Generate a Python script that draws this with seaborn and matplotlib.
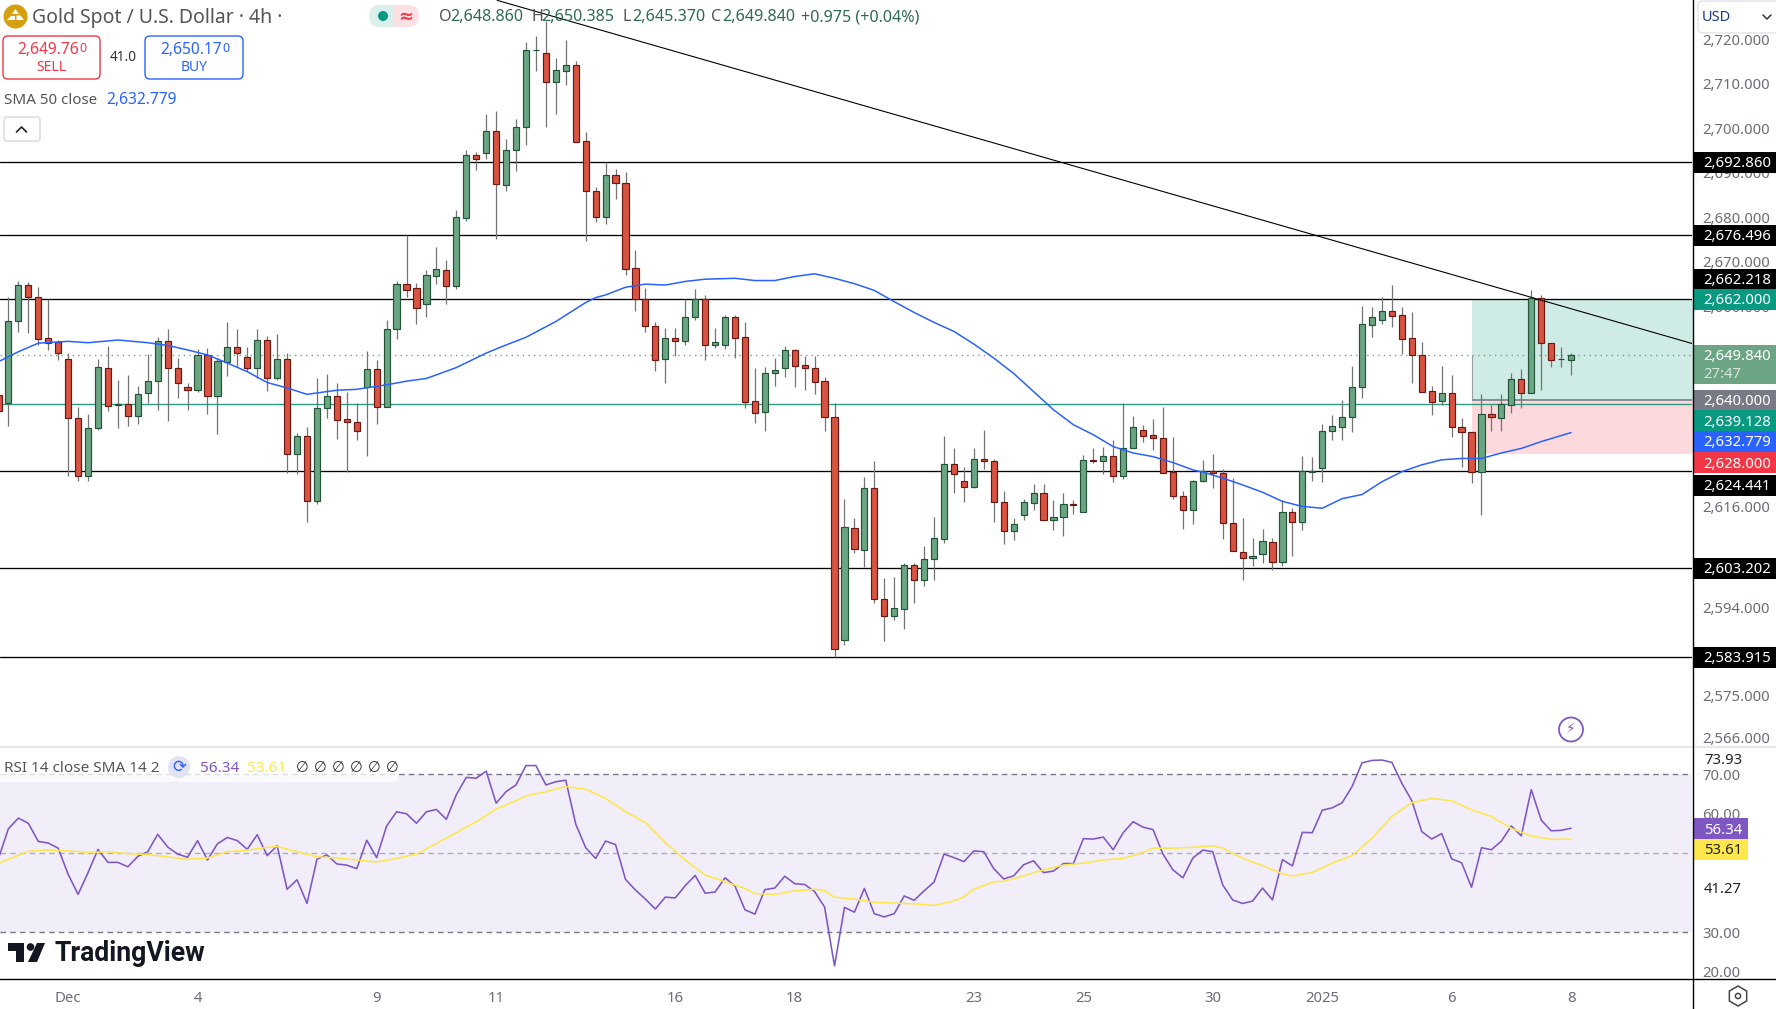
import numpy as np
import pandas as pd
import matplotlib
matplotlib.use("Agg")
import matplotlib.pyplot as plt
from matplotlib.patches import Circle, FancyBboxPatch, Polygon, Rectangle, RegularPolygon
from matplotlib.ticker import NullLocator
from matplotlib.transforms import ScaledTranslation
import seaborn as sns

# 4h candles, first one is cut off by the left edge
open_px = [
    2641.1, 2639.3, 2657.5, 2665.4, 2662.8, 2653.6, 2652.7, 2649.0, 2636.0, 2623.2, 2633.8, 2647.0, 2638.9, 2639.0, 2636.5, 2641.4,
    2644.1, 2652.9, 2647.0, 2642.8, 2642.1, 2649.8, 2640.9, 2648.4, 2651.6, 2649.4, 2646.9, 2653.1, 2644.9, 2649.0, 2628.0, 2632.0,
    2617.7, 2638.1, 2640.8, 2635.7, 2635.0, 2642.9, 2646.7, 2638.3, 2655.6, 2665.6, 2664.7, 2661.1, 2667.5, 2668.7, 2665.1, 2680.4,
    2694.4, 2695.0, 2700.0, 2687.7, 2695.7, 2700.9, 2718.1, 2717.6, 2711.0, 2713.5, 2714.7, 2697.6, 2686.3, 2680.6, 2689.9, 2688.3,
    2669.1, 2662.2, 2656.3, 2648.9, 2653.6, 2652.9, 2658.2, 2662.2, 2652.0, 2652.2, 2658.3, 2653.8, 2639.7, 2637.2, 2646.0, 2646.9,
    2650.9, 2647.6, 2647.0, 2644.1, 2636.2, 2587.6, 2611.9, 2607.2, 2620.6, 2596.5, 2592.7, 2594.2, 2603.9, 2600.5, 2605.1, 2609.6,
    2625.9, 2622.1, 2620.9, 2627.0, 2626.5, 2617.5, 2611.2, 2614.8, 2617.4, 2619.5, 2613.6, 2614.2, 2617.2, 2615.3, 2626.7, 2626.5,
    2627.6, 2623.2, 2629.3, 2633.3, 2632.2, 2631.5, 2624.1, 2618.8, 2615.9, 2622.1, 2624.4, 2623.9, 2612.9, 2606.7, 2605.3, 2606.2,
    2608.9, 2604.5, 2615.4, 2613.1, 2624.2, 2625.0, 2633.1, 2633.9, 2636.1, 2642.9, 2656.6, 2657.7, 2659.6, 2658.7, 2653.6, 2649.8,
    2641.9, 2639.8, 2641.4, 2633.9, 2632.9, 2624.2, 2636.8, 2635.9, 2638.9, 2644.5, 2641.4, 2662.5, 2652.6, 2648.9, 2648.86,
]
high_px = [
    2643.7, 2662.8, 2666.3, 2666.1, 2664.9, 2662.4, 2653.2, 2650.3, 2638.3, 2636.9, 2649.0, 2651.9, 2644.4, 2645.5, 2643.0, 2650.1,
    2653.8, 2655.7, 2649.2, 2643.7, 2651.2, 2651.5, 2649.2, 2657.2, 2655.7, 2651.7, 2655.7, 2654.1, 2654.6, 2650.3, 2632.6, 2634.0,
    2644.9, 2645.7, 2643.7, 2641.7, 2639.3, 2650.8, 2648.8, 2657.7, 2666.3, 2676.5, 2665.8, 2668.8, 2673.9, 2671.0, 2682.1, 2695.6,
    2695.1, 2703.7, 2704.4, 2698.1, 2702.6, 2720.0, 2721.4, 2724.7, 2716.3, 2720.5, 2715.6, 2699.6, 2687.2, 2692.8, 2691.3, 2690.6,
    2673.2, 2664.7, 2657.2, 2655.9, 2655.9, 2662.2, 2664.5, 2663.2, 2655.9, 2658.8, 2658.8, 2657.2, 2647.0, 2647.2, 2649.2, 2651.9,
    2651.2, 2649.7, 2649.7, 2645.0, 2639.3, 2618.3, 2614.1, 2623.1, 2626.6, 2601.1, 2601.3, 2604.2, 2604.2, 2608.0, 2614.3, 2632.0,
    2629.4, 2625.3, 2629.4, 2633.4, 2627.0, 2620.0, 2614.0, 2618.3, 2621.6, 2621.6, 2618.1, 2619.6, 2618.1, 2627.9, 2629.4, 2629.6,
    2631.2, 2639.3, 2636.4, 2634.4, 2635.8, 2638.5, 2631.8, 2620.0, 2622.4, 2626.8, 2628.1, 2624.8, 2622.9, 2614.0, 2609.8, 2611.7,
    2609.8, 2617.9, 2616.3, 2627.7, 2627.5, 2634.7, 2636.6, 2640.0, 2647.4, 2660.8, 2660.5, 2662.7, 2665.4, 2660.5, 2659.4, 2652.8,
    2643.0, 2647.4, 2645.5, 2636.0, 2632.9, 2641.3, 2638.9, 2641.3, 2645.9, 2646.8, 2664.3, 2663.2, 2652.6, 2651.7, 2650.385,
]
low_px = [
    2633.4, 2634.3, 2655.0, 2654.7, 2652.1, 2650.9, 2648.8, 2623.2, 2622.1, 2622.1, 2633.4, 2637.5, 2633.7, 2634.3, 2634.7, 2639.3,
    2637.8, 2635.4, 2640.4, 2637.8, 2641.8, 2636.9, 2632.5, 2645.3, 2647.3, 2646.4, 2644.7, 2641.9, 2644.4, 2624.0, 2623.8, 2613.3,
    2617.1, 2636.0, 2631.4, 2624.2, 2631.2, 2627.7, 2634.7, 2638.3, 2653.4, 2662.8, 2656.8, 2658.2, 2665.7, 2661.2, 2664.6, 2679.7,
    2691.1, 2693.6, 2675.6, 2686.5, 2690.9, 2696.7, 2713.5, 2700.9, 2703.7, 2710.3, 2697.5, 2675.3, 2679.5, 2679.0, 2684.6, 2667.7,
    2659.7, 2654.9, 2646.4, 2643.7, 2649.7, 2652.0, 2657.7, 2648.8, 2651.5, 2651.3, 2649.3, 2638.2, 2634.9, 2633.1, 2643.0, 2645.0,
    2642.9, 2642.2, 2641.3, 2633.1, 2583.9, 2586.6, 2606.5, 2603.5, 2595.5, 2587.3, 2592.0, 2589.9, 2595.7, 2599.2, 2600.5, 2608.7,
    2619.6, 2617.6, 2620.6, 2624.8, 2613.3, 2608.5, 2609.3, 2613.7, 2615.9, 2613.6, 2611.5, 2610.2, 2615.0, 2615.3, 2626.0, 2623.8,
    2622.0, 2622.6, 2629.3, 2630.7, 2629.0, 2624.0, 2618.3, 2611.7, 2612.8, 2621.9, 2620.6, 2609.5, 2606.9, 2600.6, 2603.7, 2604.2,
    2602.8, 2603.7, 2605.7, 2611.5, 2622.2, 2621.9, 2631.2, 2631.2, 2632.9, 2640.4, 2653.9, 2656.8, 2656.1, 2650.1, 2643.7, 2641.7,
    2636.6, 2638.9, 2631.8, 2625.3, 2621.8, 2614.8, 2633.1, 2633.1, 2637.1, 2638.2, 2641.4, 2642.2, 2647.2, 2647.2, 2645.37,
]
close_px = [
    2637.6, 2657.5, 2665.4, 2662.8, 2653.5, 2652.6, 2650.3, 2636.0, 2623.2, 2633.8, 2647.2, 2638.7, 2639.1, 2636.5, 2641.2, 2644.1,
    2652.9, 2647.1, 2643.8, 2642.2, 2649.8, 2640.9, 2648.5, 2651.6, 2650.3, 2647.1, 2653.1, 2644.9, 2649.0, 2628.0, 2632.0, 2617.7,
    2638.2, 2640.8, 2635.6, 2635.0, 2633.2, 2646.7, 2638.3, 2655.6, 2665.6, 2664.4, 2660.2, 2667.6, 2668.9, 2665.1, 2680.5, 2694.4,
    2693.6, 2700.0, 2687.9, 2695.7, 2700.9, 2718.1, 2718.2, 2711.0, 2713.6, 2714.7, 2697.5, 2686.3, 2680.6, 2689.9, 2688.3, 2668.9,
    2662.2, 2656.2, 2648.7, 2653.6, 2652.9, 2658.3, 2662.2, 2652.0, 2652.7, 2658.3, 2653.7, 2639.6, 2637.0, 2646.0, 2646.5, 2650.9,
    2647.5, 2646.9, 2644.0, 2636.1, 2585.6, 2612.1, 2607.3, 2620.6, 2596.4, 2592.7, 2594.5, 2603.9, 2600.5, 2605.2, 2609.7, 2625.9,
    2623.6, 2620.9, 2627.0, 2626.5, 2617.5, 2611.2, 2612.8, 2617.5, 2619.5, 2613.6, 2614.3, 2617.1, 2617.0, 2626.7, 2626.5, 2627.6,
    2623.2, 2629.3, 2633.9, 2632.1, 2631.5, 2624.0, 2618.8, 2615.9, 2622.1, 2624.4, 2623.9, 2612.9, 2606.9, 2605.3, 2605.9, 2609.1,
    2604.5, 2615.4, 2613.3, 2624.3, 2624.4, 2633.1, 2634.2, 2636.2, 2642.9, 2656.7, 2658.3, 2659.6, 2658.6, 2653.5, 2649.8, 2641.8,
    2639.6, 2641.4, 2633.9, 2632.8, 2624.2, 2636.8, 2636.1, 2639.1, 2644.5, 2641.4, 2662.5, 2652.6, 2648.7, 2649.0, 2649.84,
]
bar_idx = np.arange(-1, len(open_px) - 1)

# SMA 50 read at every other bar or so
sma_idx = [
    -1, 1, 3, 6, 8, 11, 14, 16, 18, 20, 22, 24, 26, 28, 30, 33, 35, 38, 40, 42, 45, 48, 50, 52, 55, 58, 59,
    60, 62, 64, 66, 68, 70, 73, 75, 77, 79, 81, 83, 85, 87, 89, 91, 93, 95, 97, 99, 101, 103, 105, 107, 109,
    111, 113, 115, 117, 119, 120, 122, 124, 126, 128, 130, 132, 134, 136, 138, 140, 142, 144, 146, 148, 150, 152, 154, 157,
]
sma_val = [
    2648.4, 2650.6, 2652.5, 2652.9, 2652.6, 2653.2, 2652.6, 2652.0, 2651.0, 2649.9, 2648.1, 2646.2, 2643.8, 2642.6, 2641.2,
    2642.1, 2642.3, 2643.3, 2644.1, 2644.7, 2647.1, 2650.3, 2652.1, 2653.8, 2657.3, 2661.5, 2662.6,
    2663.2, 2664.9, 2665.6, 2665.4, 2666.2, 2666.7, 2666.9, 2666.4, 2666.4, 2667.3, 2667.9, 2666.9, 2665.7, 2664.2, 2661.7,
    2659.3, 2657.1, 2655.1, 2652.3, 2649.2, 2645.8, 2641.8, 2637.8, 2634.5, 2632.3,
    2629.7, 2628.3, 2627.5, 2626.2, 2624.6, 2624.1, 2622.8, 2621.3, 2619.7, 2617.7, 2616.6, 2616.2, 2618.3, 2619.2, 2622.0,
    2624.2, 2625.7, 2626.8, 2627.1, 2627.1, 2628.3, 2629.3, 2630.8, 2632.78,
]

# RSI 14, one value per bar
rsi_val = [
    48.7, 56.2, 58.9, 57.6, 53.0, 52.6, 51.3, 44.7, 39.6, 45.1, 51.0, 47.7, 47.7, 46.6, 49.2, 50.4, 54.8, 51.6, 49.8, 49.0,
    53.2, 48.3, 52.4, 54.0, 53.2, 51.0, 54.7, 49.4, 51.9, 40.9, 43.3, 37.3, 48.5, 49.6, 47.3, 47.0, 46.1, 53.3, 48.9, 56.9,
    60.5, 60.0, 57.6, 60.5, 61.1, 58.6, 64.8, 69.2, 69.0, 70.8, 62.7, 65.6, 67.3, 72.2, 72.2, 67.3, 68.1, 68.5, 57.4, 51.4,
    48.7, 53.1, 52.2, 43.4, 40.7, 38.4, 35.9, 38.9, 38.7, 41.8, 44.4, 39.9, 40.2, 43.8, 41.7, 35.7, 34.6, 40.8, 41.2, 44.2,
    42.3, 42.1, 40.3, 36.4, 21.5, 36.3, 35.1, 41.1, 34.7, 33.9, 34.7, 39.2, 38.1, 40.5, 42.7, 49.8, 48.9, 47.9, 50.6, 50.4,
    46.1, 43.5, 44.3, 47.1, 48.1, 45.1, 45.5, 47.4, 47.4, 53.7, 53.6, 54.1, 50.9, 55.2, 58.0, 56.6, 56.0, 49.8, 45.8, 43.8,
    48.8, 50.8, 50.4, 42.0, 38.2, 37.3, 37.9, 41.2, 38.2, 48.4, 46.8, 55.3, 55.2, 60.9, 61.5, 62.8, 66.9, 72.9, 73.5, 73.6,
    73.0, 67.7, 63.3, 55.5, 53.6, 55.0, 48.6, 47.6, 41.4, 51.4, 50.9, 53.1, 56.9, 54.4, 66.1, 58.4, 55.7, 55.8, 56.34,
]
rsi_sma_idx = [
    -1, 2, 4, 6, 8, 10, 12, 14, 16, 18, 20, 22, 24, 26, 27, 29, 31, 33, 35, 37, 39, 41, 43, 45, 47, 49, 50, 52, 54, 56, 58,
    60, 62, 64, 66, 68, 70, 72, 74, 75, 77, 79, 81, 82, 83, 85, 87, 89, 91, 93, 95, 96, 97, 99, 100, 102, 104, 106, 108, 110,
    112, 114, 115, 117, 119, 121, 122, 124, 126, 128, 129, 131, 133, 135, 137, 139, 141, 143, 145, 147, 149, 151, 153, 155, 157,
]
rsi_sma_val = [
    47.5, 50.5, 50.8, 50.6, 50.2, 50.4, 49.9, 49.7, 49.1, 48.5, 48.8, 50.4, 50.8, 51.5, 51.7, 50.4, 49.1, 48.8, 48.3, 47.8,
    48.7, 49.8, 52.5, 55.2, 58.0, 61.2, 62.2, 64.5, 65.6, 66.9, 66.2,
    63.9, 60.5, 57.8, 52.7, 48.3, 44.5, 42.8, 41.1, 39.8, 39.6, 40.5, 40.9, 40.5, 38.9, 38.4, 37.6, 37.4, 37.2, 36.8, 37.9,
    39.0, 40.9, 42.8, 42.9, 44.3, 45.8, 47.0, 47.5, 48.3,
    48.7, 50.2, 51.3, 51.3, 51.5, 51.9, 51.3, 48.7, 46.9, 44.8, 44.2, 45.2, 47.5, 49.4, 53.8, 59.3, 62.8, 63.9, 63.3, 61.0,
    59.3, 56.3, 54.4, 53.5, 53.61,
]

support_levels = [2692.86, 2676.496, 2662.218, 2624.441, 2603.202, 2583.915]
trend_idx = [49.1, 169.2]
trend_px = [2729.5, 2652.4]
last_price = 2649.84
entry_line = 2639.128
target_px, entry_px, stop_px = 2662.0, 2640.0, 2628.0
box_start = 147

price_ticks = [2720, 2710, 2700, 2690, 2680, 2670, 2660, 2616, 2594, 2575, 2566]
date_idx = [6, 19, 37, 49, 67, 79, 97, 108, 121, 132, 145, 157]
date_labels = ["Dec", "4", "9", "11", "16", "18", "23", "25", "30", "2025", "6", "8"]
rsi_ticks = [70, 60, 30, 20]

# right hand scale flags: text, background, y of the flag (TV pushes them apart)
flag_text = ["2,692.860", "2,676.496", "2,662.218", "2,662.000", "2,640.000", "2,639.128", "2,632.779", "2,628.000", "2,624.441", "2,603.202", "2,583.915"]
flag_color = ["#000000", "#000000", "#000000", "#089981", "#787b86", "#089981", "#2962ff", "#f23645", "#000000", "#000000", "#000000"]
flag_y = [162, 235, 279, 299.5, 400, 420.5, 441.5, 462.5, 485, 568, 657]

WIDTH, HEIGHT = 1776, 1009
GREY = "#6a6d78"

sns.set_theme(style="white")
plt.rcParams["font.family"] = ["Noto Sans", "DejaVu Sans"]

fig = plt.figure(figsize=(WIDTH / 100, HEIGHT / 100), dpi=100)
ax = fig.add_axes([0, 1 - 746 / HEIGHT, 1692 / WIDTH, 746 / HEIGHT])
rsi_ax = fig.add_axes([0, 1 - 979 / HEIGHT, 1692 / WIDTH, 232 / HEIGHT])
ov = fig.add_axes([0, 0, 1, 1], zorder=5)
ov.set_xlim(0, WIDTH)
ov.set_ylim(HEIGHT, 0)
ov.axis("off")
ov.patch.set_alpha(0)

# price pane
df = pd.DataFrame({"i": bar_idx, "o": open_px, "h": high_px, "l": low_px, "c": close_px})
up = df["c"] >= df["o"]
ax.set_yscale("log")
ax.set_xlim(-0.844, 169.15)
ax.set_ylim(2564.8, 2729.57)

ax.fill_between([box_start, 170], entry_px, target_px, color="#cfebe5", lw=0, zorder=1)
ax.fill_between([box_start, 170], stop_px, entry_px, color="#fcd9dc", lw=0, zorder=1)
ax.vlines(box_start, entry_px, last_price, color="#9aa0a6", lw=0.8, zorder=1.5)
ax.hlines(entry_px, box_start, 170, color="#8a8d96", lw=1.4, zorder=1.5)
for level in support_levels:
    ax.axhline(level, color="black", lw=0.95, zorder=2)
ax.axhline(entry_line, color="#2f9d85", lw=1.0, zorder=2)
ax.axhline(last_price, color="#6ba583", lw=1.0, ls=(0, (1, 3)), zorder=2)

ax.vlines(df["i"], df["l"], df["h"], color="#737375", lw=0.9, zorder=3)
for mask, face, edge in [(up, "#6ba583", "#225437"), (~up, "#d75442", "#6b1813")]:
    part = df[mask]
    ax.bar(part["i"], (part["c"] - part["o"]).abs().clip(lower=0.15), bottom=part[["o", "c"]].min(axis=1),
           width=0.62, color=face, edgecolor=edge, linewidth=0.85, zorder=4)

sns.lineplot(x=sma_idx, y=sma_val, ax=ax, color="#2962ff", lw=1.1, zorder=5, errorbar=None)
sns.lineplot(x=trend_idx, y=trend_px, ax=ax, color="black", lw=0.8, zorder=5, errorbar=None)

ax.yaxis.tick_right()
ax.yaxis.set_minor_locator(NullLocator())
ax.set_yticks(price_ticks)
ax.set_yticklabels([f"{t:,.3f}" for t in price_ticks], color=GREY, fontsize=10.7)
ax.tick_params(axis="y", length=0, pad=7.5)
ax.set_xticks([])
ax.set_xlabel("")
ax.set_ylabel("")
sns.despine(ax=ax, left=True, right=True, top=True, bottom=True)
for label in ax.get_yticklabels():
    label.set_transform(label.get_transform() + ScaledTranslation(0, 2.5 / 100, fig.dpi_scale_trans))

# RSI pane
rsi_ax.set_xlim(-0.844, 169.15)
rsi_ax.set_ylim(18.18, 76.9)
rsi_ax.axhspan(30, 70, color="#f1edf9", lw=0, zorder=1)
rsi_ax.axhline(70, color="#787b86", lw=1.0, ls=(0, (4, 3)), zorder=2)
rsi_ax.axhline(50, color="#b0adb8", lw=1.0, ls=(0, (4, 3)), zorder=2)
rsi_ax.axhline(30, color="#787b86", lw=1.0, ls=(0, (4, 3)), zorder=2)
sns.lineplot(x=bar_idx, y=rsi_val, ax=rsi_ax, color="#7e57c2", lw=1.15, zorder=3, errorbar=None)
sns.lineplot(x=rsi_sma_idx, y=rsi_sma_val, ax=rsi_ax, color="#fde74c", lw=1.15, zorder=4, errorbar=None)
rsi_ax.set_xticks(date_idx)
rsi_ax.set_xticklabels(date_labels, color=GREY, fontsize=10.7)
rsi_ax.get_xticklabels()[date_labels.index("2025")].set_fontweight("bold")
rsi_ax.yaxis.tick_right()
rsi_ax.set_yticks(rsi_ticks)
rsi_ax.set_yticklabels([f"{t:.2f}" for t in rsi_ticks], color=GREY, fontsize=10.7)
rsi_ax.tick_params(axis="y", length=0, pad=7.5)
rsi_ax.tick_params(axis="x", length=0, pad=9)
rsi_ax.set_xlabel("")
rsi_ax.set_ylabel("")
sns.despine(ax=rsi_ax, left=True, right=True, top=True, bottom=True)


def put(x, y, s, **kw):
    kw.setdefault("va", "center")
    kw.setdefault("ha", "left")
    kw.setdefault("fontsize", 10.7)
    return ov.text(x, y + 1.5, s, **kw)


def rounded(x0, y0, x1, y1, rad, **kw):
    ov.add_patch(FancyBboxPatch((x0 + rad, y0 + rad), x1 - x0 - 2 * rad, y1 - y0 - 2 * rad,
                                boxstyle=f"round,pad={rad},rounding_size={rad}", **kw))


# scale frame lines
ov.plot([0, WIDTH], [746.5, 746.5], color="#e0e3eb", lw=1.2)
ov.plot([0, WIDTH], [979, 979], color="black", lw=1.0)
ov.plot([1692.5, 1692.5], [0, HEIGHT], color="black", lw=1.0)

# price flags
for text, color, y in zip(flag_text, flag_color, flag_y):
    ov.add_patch(Rectangle((1693, y - 10.5), 83, 21, color=color, lw=0))
    put(1703, y, text, color="white")
ov.add_patch(Rectangle((1693, 345), 83, 39, color="#6ba583", lw=0))
put(1703, 355, "2,649.840", color="white")
put(1703, 372.5, "27:47", color="#d5e6dc")

# USD selector
ov.add_patch(Rectangle((1693.5, 0), 82.5, 34, color="white", lw=0))
rounded(1698, 1, 1780, 33, 5, fc="white", ec="#e0e3eb", lw=1)
put(1702, 16, "USD", color="#1e3a8a", fontsize=10.5)
ov.plot([1763, 1767, 1771], [15, 19, 15], color="#333333", lw=1.1)

# RSI flags
ov.add_patch(Rectangle((1693, 818), 55, 21, color="#7e57c2", lw=0))
put(1704, 828.5, "56.34", color="white")
ov.add_patch(Rectangle((1693, 839), 55, 21, color="#fde74c", lw=0))
put(1704, 849.5, "53.61", color="#222222")
put(1704, 759, "73.93", color="#222222")
put(1704, 888, "41.27", color="#222222")

# header
ov.add_patch(Circle((15.5, 16.5), 12, color="#d4a00f", lw=0))
ov.add_patch(Polygon([[15.5, 9], [19, 14], [12, 14]], color="white", lw=0))
ov.add_patch(Polygon([[10.5, 15.5], [14.5, 15.5], [14.5, 20], [7, 20]], color="white", lw=0))
ov.add_patch(Polygon([[16.5, 15.5], [20.5, 15.5], [24, 20], [16.5, 20]], color="white", lw=0))
put(32, 17, "Gold Spot / U.S. Dollar · 4h ·", color="#555555", fontsize=14)

rounded(369, 5, 419, 27, 11, fc="#fde0e3", ec="none")
ov.add_patch(Circle((380, 16), 11, color="#daf0ec", lw=0))
ov.add_patch(Rectangle((380, 5), 14, 22, color="#daf0ec", lw=0))
ov.add_patch(Circle((383, 16), 5, color="#089981", lw=0))
put(406, 15, "≈", color="#f23645", fontsize=13, ha="center", fontweight="bold")

put(439, 15.5, "O", color="#555555", fontsize=11.6)
put(450, 15.5, "2,648.860", color="#2e6b4f", fontsize=11.6)
put(531, 15.5, "H", color="#555555", fontsize=11.6)
put(541, 15.5, "2,650.385", color="#2e6b4f", fontsize=11.6)
put(622, 15.5, "L", color="#555555", fontsize=11.6)
put(632, 15.5, "2,645.370", color="#2e6b4f", fontsize=11.6)
put(711, 15.5, "C", color="#555555", fontsize=11.6)
put(722, 15.5, "2,649.840", color="#2e6b4f", fontsize=11.6)
put(801, 15.5, "+0.975 (+0.04%)", color="#2e6b4f", fontsize=11.6)

# sell / buy
rounded(3, 36, 100, 79, 5, fc="white", ec="#f23645", lw=1)
put(17, 49, "2,649.76", color="#f23645", fontsize=11.2, fontweight="bold")
put(79, 47, "0", color="#f23645", fontsize=9)
put(51, 66, "SELL", color="#f23645", fontsize=10, ha="center")
put(123, 56, "41.0", color="#333333", fontsize=9.8, ha="center")
rounded(145, 36, 243, 79, 5, fc="white", ec="#2962ff", lw=1)
put(160, 49, "2,650.17", color="#2962ff", fontsize=11.2, fontweight="bold")
put(222, 47, "0", color="#2962ff", fontsize=9)
put(194, 66, "BUY", color="#2962ff", fontsize=10, ha="center")

put(4, 98.5, "SMA 50 close", color="#555555", fontsize=10.9)
put(106, 98.5, "2,632.779", color="#2962ff", fontsize=11.2)
rounded(4, 117, 40, 141, 3, fc="white", ec="#d5d8df", lw=1)
ov.plot([16.5, 21.5, 26.5], [132, 127, 132], color="#222222", lw=1.2)

# replay bolt
ov.add_patch(Circle((1571, 729.5), 12, fc="white", ec="#7e57c2", lw=1.3))
ov.text(1571, 729.5, "⚡", color="#7e57c2", fontsize=10, ha="center", va="center", family="DejaVu Sans")

# RSI legend
ov.add_patch(Rectangle((0, 748), 398, 34, color="white", alpha=0.75, lw=0))
put(4, 767, "RSI 14 close SMA 14 2", color="#555555", fontsize=11)
ov.add_patch(Circle((179, 767), 11, color="#e4e2f5", lw=0))
ov.text(179, 767, "⟳", color="#2962ff", fontsize=12, ha="center", va="center", family="DejaVu Sans")
put(200, 767, "56.34", color="#7e57c2", fontsize=11)
put(247, 767, "53.61", color="#fde74c", fontsize=11, fontweight="bold")
for x in range(296, 391, 18):
    put(x, 767, "∅", color="#333333", fontsize=10.5)

# watermark
ov.add_patch(Polygon([[8, 943], [24, 943], [24, 962], [16, 962], [16, 951], [8, 951]], color="#131722", lw=0))
ov.add_patch(Circle((30.5, 947), 3.8, color="#131722", lw=0))
ov.add_patch(Polygon([[37, 943], [45, 943], [37, 962], [28, 962]], color="#131722", lw=0))
put(54, 952, "TradingView", color="#131722", fontsize=19.2, fontweight="bold", family="Roboto")

# settings hexagon
ov.add_patch(RegularPolygon((1738, 996), 6, radius=10, fc="white", ec="#444444", lw=1.1))
ov.add_patch(Circle((1738, 996), 2.6, fc="white", ec="#444444", lw=1.1))

fig.savefig("out.png", dpi=100)
plt.close(fig)
